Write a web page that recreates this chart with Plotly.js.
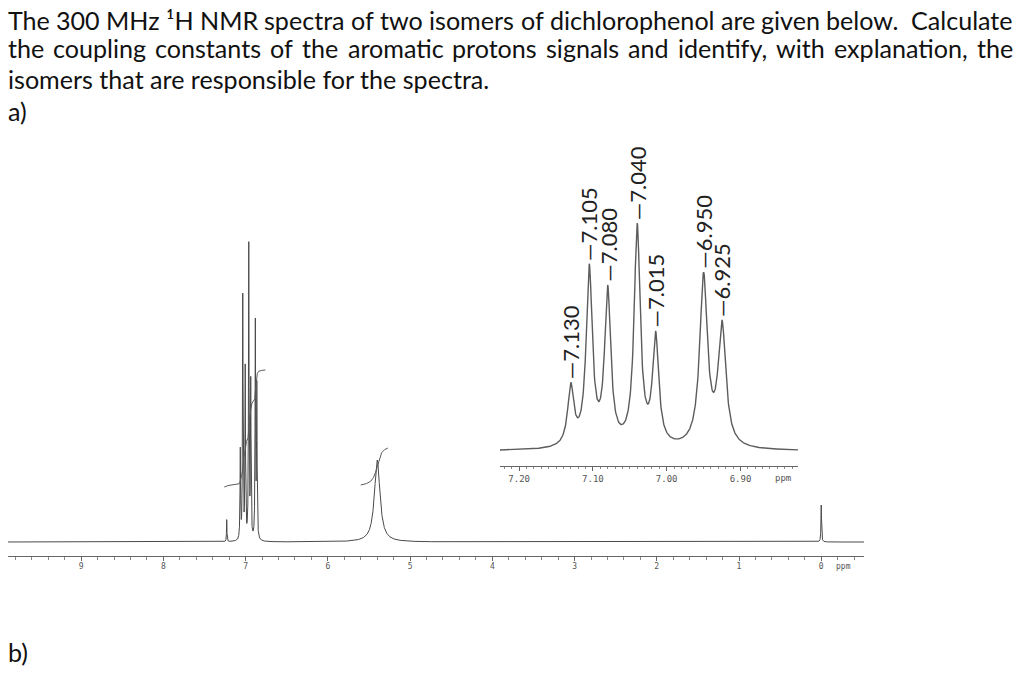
<!DOCTYPE html>
<html><head><meta charset="utf-8">
<script src="https://cdn.plot.ly/plotly-3.0.1.min.js"></script>
<style>html,body{margin:0;padding:0;background:#fff}#chart{width:1024px;height:681px}</style>
</head><body><div id="chart"></div>
<script>
// ---------- data ----------
// inset (expanded aromatic region), labelled lines
const peakShifts = [7.130, 7.105, 7.080, 7.040, 7.015, 6.950, 6.925];
const peakLabels = ['7.130', '7.105', '7.080', '7.040', '7.015', '6.950', '6.925'];
const insetAmps = [59, 177, 154, 219, 108, 170, 120];
const insetWidths = [0.010, 0.010, 0.010, 0.010, 0.010, 0.0125, 0.0125];
// full spectrum, aromatic lines as they sit on the full-range axis
const mainShifts = [7.065, 7.035, 7.005, 6.962, 6.938, 6.882, 6.864];
const mainAmps = [89, 243, 170, 293, 155, 215, 150];
const mainWidths = [0.008, 0.008, 0.008, 0.008, 0.008, 0.008, 0.008];
// other signals: solvent residue, OH, TMS
const otherShifts = [7.23, 5.40, 0.00];
const otherAmps = [22, 82, 37];
const otherWidths = [0.006, 0.08, 0.008];
const mainTicks = [9, 8, 7, 6, 5, 4, 3, 2, 1, 0];
const insetTicks = [7.20, 7.10, 7.00, 6.90];
const insetTickText = ['7.20', '7.10', '7.00', '6.90'];
const integralFrom = [7.26, 5.60];
const integralTo = [6.76, 5.27];
const integralStart = [55, 57];
const integralRise = [117, 37];

const titleLines = [
  'The 300 MHz \u00B9H NMR spectra of two isomers of dichlorophenol are given below.  Calculate',
  'the coupling constants of the aromatic protons signals and identify, with explanation, the',
  'isomers that are responsible for the spectra.'
];

// ---------- build curves ----------
function lor(x, c, a, w) { const t = 2 * (x - c) / w; return a / (1 + t * t); }
function spectrum(xs, shifts, amps, widths) {
  return xs.map(x => { let s = 0; for (let i = 0; i < shifts.length; i++) s += lor(x, shifts[i], amps[i], widths[i]); return s; });
}
const mainX = [];
for (let i = 0; i <= 20820; i++) mainX.push(+(9.89 - i * 0.0005).toFixed(5));
const mainY = spectrum(mainX, mainShifts.concat(otherShifts), mainAmps.concat(otherAmps), mainWidths.concat(otherWidths));

const insetX = [];
for (let i = 0; i <= 808; i++) insetX.push(+(7.226 - i * 0.0005).toFixed(5));
const insetY = spectrum(insetX, peakShifts, insetAmps, insetWidths);

const integrals = integralFrom.map((f, k) => {
  const xs = [], raw = []; let acc = 0;
  for (let i = 0; i < mainX.length; i++) {
    const x = mainX[i];
    if (x <= f && x >= integralTo[k]) { acc += mainY[i]; xs.push(x); raw.push(acc); }
  }
  const tot = raw[raw.length - 1];
  return { x: xs, y: raw.map(v => integralStart[k] + integralRise[k] * v / tot) };
});

const lineCol = '#4a4a4a';
const traces = [
  { x: mainX, y: mainY, xaxis: 'x', yaxis: 'y', mode: 'lines', line: { color: lineCol, width: 1 }, hoverinfo: 'skip' },
  { x: integrals[0].x, y: integrals[0].y, xaxis: 'x', yaxis: 'y', mode: 'lines', line: { color: '#5a5a5a', width: 1 }, hoverinfo: 'skip' },
  { x: integrals[1].x, y: integrals[1].y, xaxis: 'x', yaxis: 'y', mode: 'lines', line: { color: '#5a5a5a', width: 1 }, hoverinfo: 'skip' },
  { x: insetX, y: insetY, xaxis: 'x2', yaxis: 'y2', mode: 'lines', line: { color: '#5c5c5c', width: 1.4 }, hoverinfo: 'skip' }
];

// ---------- text layout ----------
const W = 1024, H = 681;
const px = v => v / W, py = v => 1 - v / H;
const ctx = document.createElement('canvas').getContext('2d');
function tw(s, size) { ctx.font = size + 'px Lato'; return ctx.measureText(s).width; }
const fs = Math.round(22 * 482 / tw(titleLines[2], 22) * 10) / 10;
const annotations = [];
const lineY = [20, 48, 79];
function addWord(text, x, y) {
  annotations.push({ text: text, xref: 'paper', yref: 'paper', x: px(x - 2), y: py(y), xanchor: 'left', yanchor: 'middle', showarrow: false, font: { family: 'Lato', size: fs, color: '#111' } });
}
[0, 1].forEach(li => {
  const tokens = titleLines[li].split(/( +)/).filter(t => t.length);
  const words = tokens.filter(t => t[0] !== ' ');
  const nSpaces = tokens.filter(t => t[0] === ' ').reduce((s, t) => s + t.length, 0);
  const wordW = words.reduce((s, w) => s + tw(w, fs), 0);
  const gap = (1005 - wordW) / nSpaces;
  let x = 8;
  tokens.forEach(t => {
    if (t[0] === ' ') x += gap * t.length;
    else { addWord(t, x, lineY[li]); x += tw(t, fs); }
  });
});
addWord(titleLines[2], 8, lineY[2]);
addWord('a)', 8, 111);
addWord('b)', 8, 652);

// peak labels on the inset
peakShifts.forEach((s, i) => {
  const h = spectrum([s], peakShifts, insetAmps, insetWidths)[0];
  annotations.push({ text: '\u2014' + peakLabels[i], xref: 'x2', yref: 'y2', x: s, y: h, yshift: 1, xanchor: 'center', yanchor: 'bottom', textangle: -90, showarrow: false, font: { family: 'Lato', size: 22, color: '#222' } });
});
annotations.push({ text: 'ppm', xref: 'x', yref: 'paper', x: -0.27, y: py(566), xanchor: 'center', yanchor: 'middle', showarrow: false, font: { family: 'DejaVu Sans Mono', size: 8, color: '#555' } });
annotations.push({ text: 'ppm', xref: 'x2', yref: 'paper', x: 6.843, y: py(478), xanchor: 'center', yanchor: 'middle', showarrow: false, font: { family: 'DejaVu Sans Mono', size: 9, color: '#555' } });

const layout = {
  width: W, height: H, margin: { l: 0, r: 0, t: 0, b: 0 },
  paper_bgcolor: '#fff', plot_bgcolor: 'rgba(0,0,0,0)', showlegend: false,
  xaxis: {
    domain: [px(8), px(864)], range: [9.89, -0.52], anchor: 'y',
    showline: true, linecolor: '#666', linewidth: 1, showgrid: false, zeroline: false,
    ticks: 'outside', ticklen: 4, tickcolor: '#666', tickvals: mainTicks, ticktext: mainTicks.map(String),
    ticklabelstandoff: -2,
    tickfont: { family: 'DejaVu Sans Mono', size: 8, color: '#555' },
    minor: { dtick: 0.2, tick0: 0, ticks: 'outside', ticklen: 3, tickcolor: '#888', showgrid: false }
  },
  yaxis: { domain: [py(556), py(240)], range: [-14, 302], visible: false, fixedrange: true },
  xaxis2: {
    domain: [px(500), px(798)], range: [7.226, 6.822], anchor: 'y2',
    showline: true, linecolor: '#666', linewidth: 1, showgrid: false, zeroline: false,
    ticks: 'outside', ticklen: 4, tickcolor: '#666', tickvals: insetTicks, ticktext: insetTickText,
    tickfont: { family: 'DejaVu Sans Mono', size: 9, color: '#555' },
    minor: { dtick: 0.01, tick0: 7.0, ticks: 'outside', ticklen: 2, tickcolor: '#888', showgrid: false }
  },
  yaxis2: { domain: [py(466), py(200)], range: [-15, 251], visible: false, fixedrange: true },
  annotations: annotations
};
Plotly.newPlot('chart', traces, layout, { staticPlot: true, displayModeBar: false });
</script></body></html>
